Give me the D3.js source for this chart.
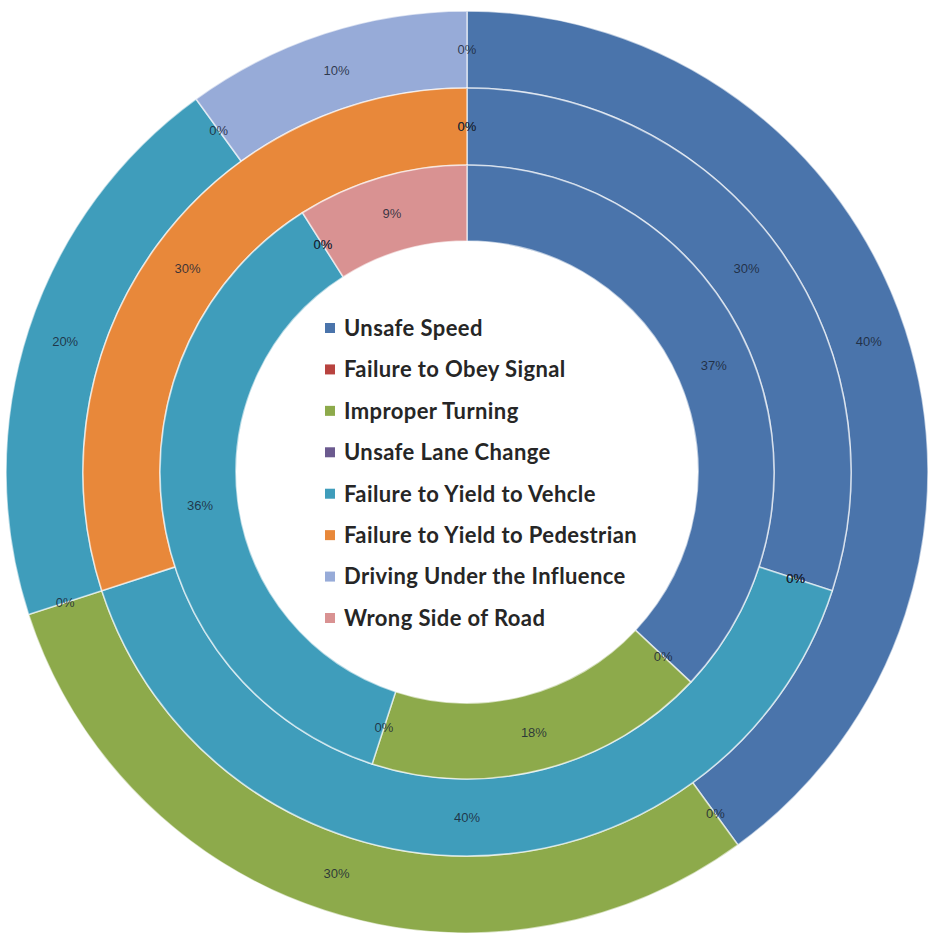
<!DOCTYPE html>
<html lang="en">

<head>
    <meta charset="UTF-8">
    <title>Collision factors - multi ring doughnut</title>
    <style>
        body {
            margin: 0;
            background: #ffffff;
        }
    </style>
    <script src="https://cdn.jsdelivr.net/npm/d3@7"></script>
</head>

<body>
</body>

<script>
    // Categories (legend order = slice order, clockwise from 12 o'clock)
    const categories = [
        "Unsafe Speed",
        "Failure to Obey Signal",
        "Improper Turning",
        "Unsafe Lane Change",
        "Failure to Yield to Vehcle",
        "Failure to Yield to Pedestrian",
        "Driving Under the Influence",
        "Wrong Side of Road"
    ];

    // Percent values per ring
    const outerValues = [40, 0, 30, 0, 20, 0, 10, 0];
    const middleValues = [30, 0, 0, 0, 40, 30, 0, 0];
    const innerValues = [37, 0, 18, 0, 36, 0, 0, 9];

    const colors = ["#4A74AB", "#B8433F", "#8DAA4B", "#6B5A8F", "#3F9DBB", "#E8883A", "#97ABD8", "#D99292"];

    const size = {
        width: 929,
        height: 937
    };
    const cx = 467, cy = 472;

    // ring radii (outer ring first)
    const rings = [
        { values: outerValues, inner: 384, outer: 461 },
        { values: middleValues, inner: 307, outer: 384 },
        { values: innerValues, inner: 231, outer: 307 }
    ];

    const colorScale = d3.scaleOrdinal()
        .domain(categories)
        .range(colors);

    const svg = d3.select("body").append("svg")
        .attr("width", size.width)
        .attr("height", size.height);

    const chart = svg.append("g")
        .attr("transform", `translate(${cx}, ${cy})`);

    const pie = d3.pie()
        .sort(null)
        .value(d => d.value);

    rings.forEach(ring => {
        const arcs = pie(categories.map((c, i) => ({ name: c, value: ring.values[i] })));
        const arc = d3.arc()
            .innerRadius(ring.inner)
            .outerRadius(ring.outer);

        const g = chart.append("g");
        g.selectAll("path")
            .data(arcs.filter(d => d.value > 0))
            .join("path")
            .attr("d", arc)
            .attr("fill", d => colorScale(d.data.name))
            .attr("stroke", "#ffffff")
            .attr("stroke-opacity", 0.6)
            .attr("stroke-width", 1.6);

        // data labels at the arc centroid (zero slices sit on the boundary)
        g.selectAll("text")
            .data(arcs)
            .join("text")
            .attr("transform", d => `translate(${arc.centroid(d)})`)
            .attr("text-anchor", "middle")
            .attr("dy", "0.35em")
            .attr("font-family", "Liberation Sans, Arial, sans-serif")
            .attr("font-size", "13px")
            .attr("fill", "#1a2535")
            .attr("fill-opacity", 0.85)
            .text(d => `${d.value}%`);
    });

    // Legend in the hole
    const legendY = d3.scalePoint()
        .domain(categories)
        .range([cy - 144, cy + 146]);

    const legend = svg.append("g")
        .attr("transform", `translate(${cx - 142}, 0)`);

    const items = legend.selectAll("g")
        .data(categories)
        .join("g")
        .attr("transform", d => `translate(0, ${legendY(d)})`);

    items.append("rect")
        .attr("x", 0)
        .attr("y", -5)
        .attr("width", 10)
        .attr("height", 10)
        .attr("fill", d => colorScale(d));

    items.append("text")
        .attr("x", 19)
        .attr("dy", "0.36em")
        .attr("font-family", "Lato, sans-serif")
        .attr("font-weight", 700)
        .attr("font-size", "22px")
        .attr("letter-spacing", "0.4px")
        .attr("fill", "#262626")
        .text(d => d);
</script>

</html>
